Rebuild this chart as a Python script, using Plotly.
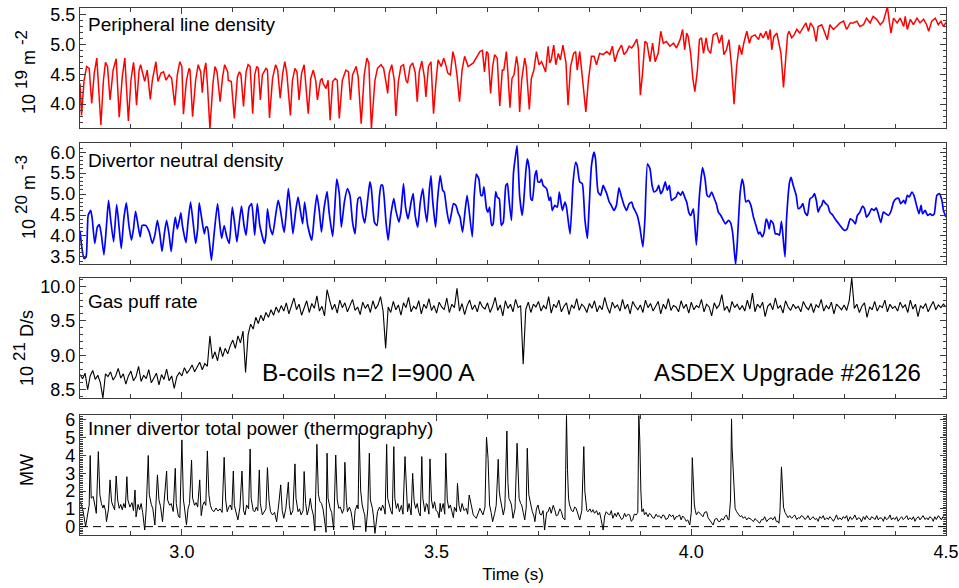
import plotly.graph_objects as go

# ---------------- data ----------------
# Peripheral line density (10^19 m^-2)
pld_t = [
    2.800, 2.803, 2.808, 2.813, 2.818, 2.823, 2.828, 2.833, 2.841, 2.846,
    2.850, 2.854, 2.859, 2.865, 2.871, 2.877, 2.883, 2.888, 2.895, 2.900,
    2.905, 2.907, 2.911, 2.916, 2.919, 2.922, 2.927, 2.932, 2.938, 2.942,
    2.949, 2.953, 2.959, 2.964, 2.969, 2.975, 2.980, 2.986, 2.991, 2.996,
    3.000, 3.003, 3.009, 3.014, 3.016, 3.021, 3.027, 3.032, 3.037, 3.040,
    3.044, 3.047, 3.050, 3.055, 3.061, 3.065, 3.069, 3.075, 3.080, 3.084,
    3.090, 3.091, 3.097, 3.103, 3.109, 3.113, 3.116, 3.121, 3.126, 3.130,
    3.134, 3.139, 3.143, 3.147, 3.150, 3.154, 3.158, 3.165, 3.168, 3.172,
    3.178, 3.184, 3.188, 3.193, 3.198, 3.202, 3.206, 3.213, 3.217, 3.222,
    3.226, 3.230, 3.235, 3.240, 3.243, 3.248, 3.253, 3.258, 3.263, 3.266,
    3.272, 3.275, 3.277, 3.283, 3.287, 3.291, 3.296, 3.301, 3.305, 3.309,
    3.315, 3.322, 3.327, 3.331, 3.335, 3.342, 3.346, 3.352, 3.358, 3.363,
    3.367, 3.372, 3.379, 3.384, 3.391, 3.396, 3.401, 3.404, 3.407, 3.412,
    3.417, 3.420, 3.425, 3.430, 3.435, 3.440, 3.443, 3.448, 3.453, 3.458,
    3.462, 3.466, 3.471, 3.476, 3.479, 3.484, 3.489, 3.494, 3.499, 3.503,
    3.509, 3.514, 3.517, 3.522, 3.527, 3.532, 3.536, 3.540, 3.545, 3.550,
    3.555, 3.558, 3.562,
    3.572, 3.578, 3.585, 3.590, 3.594, 3.598, 3.601, 3.606, 3.610, 3.614,
    3.619, 3.624, 3.629, 3.632, 3.637, 3.640, 3.644, 3.648, 3.652, 3.657,
    3.660, 3.663, 3.667, 3.673, 3.676, 3.682, 3.686, 3.691, 3.696, 3.701,
    3.706, 3.710, 3.714, 3.719, 3.722, 3.725, 3.730, 3.734, 3.739, 3.743,
    3.748, 3.754, 3.758, 3.763, 3.769, 3.773, 3.776, 3.781, 3.786, 3.793,
    3.798, 3.804, 3.809, 3.814, 3.820, 3.827, 3.834, 3.840, 3.845, 3.850,
    3.856, 3.863, 3.868, 3.873, 3.878, 3.883, 3.887, 3.893, 3.896, 3.900,
    3.904, 3.909, 3.913, 3.919, 3.924, 3.929, 3.935, 3.940, 3.945, 3.951,
    3.958, 3.965, 3.971, 3.978, 3.983, 3.987, 3.991, 3.994, 3.999, 4.003,
    4.007, 4.012, 4.016, 4.020, 4.024, 4.029, 4.033, 4.038, 4.043, 4.050,
    4.055, 4.060, 4.064, 4.069, 4.074, 4.079, 4.084, 4.089, 4.094, 4.099,
    4.103, 4.109, 4.114, 4.118, 4.125, 4.132, 4.136, 4.141, 4.147, 4.151,
    4.155, 4.158, 4.162, 4.168, 4.172, 4.176, 4.181, 4.185, 4.189, 4.192,
    4.197, 4.202, 4.207, 4.213, 4.220, 4.225, 4.230, 4.234, 4.240, 4.245,
    4.249, 4.256, 4.261, 4.267, 4.272, 4.279, 4.285, 4.292, 4.299, 4.305,
    4.312, 4.318, 4.325, 4.331, 4.338, 4.344, 4.351, 4.357, 4.364, 4.371,
    4.377, 4.382, 4.385, 4.389, 4.392, 4.397, 4.404, 4.410, 4.417, 4.420,
    4.424, 4.430, 4.436, 4.443, 4.449, 4.456, 4.462, 4.466, 4.472, 4.479,
    4.485, 4.490, 4.495, 4.500,
]
pld_v = [
    4.35, 3.81, 4.40, 4.63, 4.60, 4.01, 4.52, 4.77, 3.65, 4.40,
    4.70, 4.63, 4.07, 4.57, 4.76, 3.78, 4.46, 4.77, 3.72, 4.40,
    4.70, 4.54, 3.98, 4.57, 4.66, 4.54, 4.38, 4.57, 4.08, 4.40,
    4.71, 4.38, 4.52, 4.54, 4.40, 4.49, 4.43, 3.98, 4.49, 4.71,
    4.63, 3.83, 4.40, 4.60, 4.57, 3.79, 4.40, 4.66, 4.54, 4.19,
    4.57, 4.69, 4.35, 3.59, 4.35, 4.63, 4.54, 4.04, 4.46, 4.66,
    4.54, 4.40, 4.38, 3.76, 4.46, 4.54, 4.49, 3.96, 4.54, 4.66,
    4.63, 3.84, 4.49, 4.63, 4.60, 4.07, 4.49, 4.60, 4.57, 3.77,
    4.43, 4.66, 4.57, 4.10, 4.52, 4.71, 4.52, 3.81, 4.40, 4.60,
    4.54, 4.07, 4.52, 4.66, 4.40, 3.84, 4.43, 4.57, 4.38, 4.07,
    4.40, 4.43, 4.35, 4.26, 4.40, 3.73, 4.38, 4.43, 4.40, 3.76,
    4.40, 4.57, 4.54, 4.07, 4.49, 4.63, 4.46, 3.67, 4.49, 4.77,
    4.69, 3.59, 4.40, 4.60, 4.66, 4.60, 4.35, 4.18, 4.52, 4.66,
    4.40, 3.80, 4.38, 4.63, 4.66, 4.40, 4.35, 4.63, 4.69, 4.53,
    4.04, 4.54, 4.72, 4.46, 4.12, 4.63, 4.71, 3.84, 4.40, 4.74,
    4.63, 4.77, 4.69, 4.52, 4.49, 4.88, 4.74, 4.49, 4.04, 4.57,
    4.80, 4.71, 4.63,
    4.69, 4.77, 4.88, 4.90, 4.54, 4.88, 4.85, 4.18, 4.63, 4.83,
    4.77, 3.97, 4.57, 4.57, 4.88, 4.52, 3.94, 4.43, 4.49, 4.80,
    4.63, 3.87, 4.40, 4.77, 4.63, 3.91, 4.43, 4.57, 4.88, 4.66,
    4.71, 4.63, 4.54, 4.97, 4.69, 4.74, 4.99, 4.66, 4.85, 4.74,
    4.99, 4.69, 3.98, 4.63, 4.85, 4.88, 4.57, 4.88, 4.46, 3.87,
    4.40, 4.80, 4.80, 4.66, 4.85, 4.83, 4.88, 4.83, 4.97, 4.71,
    4.88, 4.99, 4.83, 4.88, 4.97, 4.94, 4.99, 5.09, 4.94, 4.15,
    4.49, 5.05, 5.02, 4.71, 5.02, 4.71, 4.85, 5.22, 5.02, 5.05,
    4.97, 5.02, 4.94, 5.08, 5.25, 4.91, 5.19, 5.13, 4.83, 4.43,
    4.21, 4.57, 5.08, 5.11, 4.85, 5.11, 4.91, 4.85, 5.16, 5.19,
    5.02, 5.16, 4.83, 4.91, 5.08, 4.63, 4.00, 4.63, 4.99, 4.83,
    5.02, 5.22, 5.02, 5.13, 5.16, 5.08, 5.19, 5.11, 5.22, 5.08,
    5.25, 4.91, 5.13, 5.19, 5.02, 4.85, 4.28, 4.80, 5.16, 5.22,
    5.11, 5.16, 5.25, 5.19, 5.30, 5.36, 5.22, 5.36, 5.28, 5.05,
    5.30, 5.33, 5.22, 5.08, 5.33, 5.25, 5.30, 5.36, 5.39, 5.25,
    5.36, 5.36, 5.39, 5.30, 5.33, 5.44, 5.36, 5.47, 5.42, 5.33,
    5.39, 5.56, 5.63, 5.36, 5.19, 5.44, 5.36, 5.44, 5.30, 5.47,
    5.25, 5.42, 5.33, 5.44, 5.36, 5.42, 5.33, 5.22, 5.39, 5.44,
    5.33, 5.39, 5.30, 5.37,
]

# Divertor neutral density (10^20 m^-3)
dnd_t = [
    2.800, 2.803, 2.808, 2.812, 2.816, 2.821, 2.824, 2.829, 2.834, 2.838,
    2.842, 2.847, 2.852, 2.856, 2.860, 2.866, 2.872, 2.877, 2.881, 2.886,
    2.891, 2.896, 2.901, 2.905, 2.909, 2.913, 2.918, 2.922, 2.929, 2.936,
    2.942, 2.947, 2.952, 2.957, 2.961, 2.966, 2.970, 2.975, 2.979, 2.983,
    2.987, 2.991, 2.995, 2.998, 3.001, 3.008, 3.012, 3.017, 3.022, 3.027,
    3.031, 3.034, 3.038, 3.044, 3.047, 3.050, 3.054, 3.058, 3.063, 3.070,
    3.074, 3.078, 3.083, 3.088, 3.093, 3.099, 3.104, 3.108, 3.112, 3.117,
    3.122, 3.126, 3.132, 3.137, 3.141, 3.143, 3.148, 3.153, 3.162, 3.165,
    3.168, 3.173, 3.178, 3.184, 3.189, 3.193, 3.198, 3.201, 3.205, 3.209,
    3.214, 3.218, 3.224, 3.228, 3.232, 3.237, 3.241, 3.247, 3.255, 3.260,
    3.265, 3.270, 3.274, 3.279, 3.285, 3.289, 3.296, 3.300, 3.304, 3.309,
    3.313, 3.319, 3.325, 3.330, 3.335, 3.340, 3.344, 3.346, 3.350, 3.355,
    3.359, 3.365, 3.369, 3.372, 3.378, 3.383, 3.388, 3.391, 3.394, 3.397,
    3.401, 3.405, 3.410, 3.416, 3.420, 3.426, 3.430, 3.435, 3.439, 3.444,
    3.450, 3.454, 3.458, 3.463, 3.468, 3.473, 3.477, 3.481, 3.486, 3.489,
    3.492, 3.498, 3.502, 3.507, 3.512, 3.515, 3.520, 3.525, 3.529, 3.533,
    3.538, 3.542, 3.546, 3.551, 3.556, 3.560,
    3.570, 3.574, 3.578, 3.583, 3.587, 3.590, 3.593, 3.598, 3.601, 3.604,
    3.608, 3.611, 3.616, 3.619, 3.623, 3.627, 3.631, 3.636, 3.639, 3.642,
    3.647, 3.651, 3.655, 3.658, 3.663, 3.668, 3.671, 3.675, 3.678, 3.682,
    3.685, 3.688, 3.693, 3.696, 3.699, 3.703, 3.706, 3.709, 3.716, 3.721,
    3.724, 3.727, 3.732, 3.737, 3.741, 3.744, 3.747, 3.752, 3.755, 3.762,
    3.768, 3.773, 3.776, 3.781, 3.786, 3.791, 3.796, 3.799, 3.804, 3.809,
    3.812, 3.817, 3.822, 3.827, 3.830, 3.834, 3.839, 3.843, 3.848, 3.853,
    3.858, 3.863, 3.868, 3.873, 3.878, 3.883, 3.886, 3.891, 3.894, 3.899,
    3.905, 3.909, 3.914, 3.919, 3.923, 3.927, 3.932, 3.936, 3.940, 3.944,
    3.949, 3.953, 3.957, 3.961, 3.966, 3.970, 3.974, 3.979, 3.983, 3.987,
    3.991, 3.995, 3.999, 4.004, 4.007, 4.010, 4.016, 4.022, 4.027, 4.031,
    4.035, 4.040, 4.044, 4.050, 4.053, 4.058, 4.063, 4.067, 4.073, 4.077,
    4.081, 4.084, 4.087, 4.090, 4.096, 4.100, 4.103, 4.107, 4.112, 4.117,
    4.122, 4.127, 4.132, 4.135, 4.139, 4.143, 4.147, 4.150, 4.153, 4.156,
    4.161, 4.165, 4.169, 4.173, 4.177, 4.181, 4.184, 4.187, 4.193, 4.196,
    4.200, 4.206, 4.210, 4.215, 4.219, 4.223, 4.228, 4.233, 4.238, 4.242,
    4.246, 4.249, 4.253, 4.256, 4.259, 4.264, 4.268, 4.272, 4.278, 4.282,
    4.287, 4.292, 4.297, 4.302, 4.306, 4.312, 4.317, 4.322, 4.326, 4.331,
    4.336, 4.340, 4.344, 4.349, 4.354, 4.359, 4.363, 4.367, 4.372, 4.377,
    4.382, 4.387, 4.392, 4.397, 4.402, 4.407, 4.411, 4.417, 4.420, 4.424,
    4.428, 4.433, 4.437, 4.443, 4.447, 4.451, 4.454, 4.459, 4.464, 4.469,
    4.473, 4.477, 4.482, 4.487, 4.492, 4.495, 4.500,
]
dnd_v = [
    4.13, 3.78, 3.46, 3.50, 4.49, 4.61, 4.41, 3.82, 4.21, 4.27,
    4.02, 3.55, 4.25, 4.85, 4.41, 3.86, 4.75, 4.17, 3.70, 4.41,
    4.79, 4.25, 3.90, 4.17, 4.59, 4.33, 3.98, 4.25, 4.25, 4.09,
    3.82, 4.02, 4.37, 4.02, 3.63, 4.09, 4.37, 4.02, 3.63, 4.09,
    4.45, 4.17, 4.37, 4.55, 4.25, 3.84, 4.33, 4.81, 4.33, 3.82,
    4.17, 4.79, 4.49, 4.05, 4.21, 4.21, 3.86, 3.42, 4.02, 4.77,
    4.33, 3.94, 4.25, 3.98, 3.82, 4.69, 4.25, 3.86, 4.25, 4.71,
    4.25, 4.02, 4.69, 4.77, 4.29, 4.02, 4.77, 4.25, 3.82, 4.02,
    4.65, 4.21, 4.03, 4.49, 4.85, 4.65, 4.25, 4.09, 4.57, 5.13,
    4.57, 4.05, 4.65, 4.93, 4.65, 4.29, 4.81, 4.25, 3.90, 4.49,
    4.98, 4.57, 4.09, 4.65, 5.06, 4.57, 3.99, 4.65, 5.36, 5.01,
    4.21, 4.81, 5.13, 4.97, 4.33, 4.05, 4.73, 4.89, 4.93, 4.49,
    4.31, 4.89, 5.29, 5.13, 4.33, 4.25, 4.97, 5.21, 5.21, 4.93,
    4.29, 3.90, 4.49, 4.89, 4.61, 4.33, 4.57, 5.25, 4.69, 4.41,
    4.81, 5.01, 4.49, 4.21, 4.81, 5.13, 4.65, 4.33, 5.13, 5.44,
    4.89, 4.21, 4.89, 5.44, 5.09, 5.05, 4.61, 4.29, 4.53, 4.77,
    4.73, 4.56, 4.45, 4.09, 4.61, 4.97,
    3.98, 4.97, 5.48, 5.36, 4.97, 4.97, 5.17, 4.65, 4.57, 4.69,
    4.25, 4.29, 5.06, 4.93, 4.89, 4.25, 4.33, 5.21, 5.25, 4.89,
    4.37, 5.52, 5.92, 6.16, 4.97, 4.49, 4.81, 5.52, 5.84, 5.60,
    4.89, 4.85, 5.44, 5.56, 5.29, 5.29, 5.36, 5.21, 5.13, 4.85,
    4.93, 4.61, 4.73, 4.69, 5.05, 4.81, 4.61, 4.81, 4.69, 4.05,
    5.29, 5.76, 5.68, 5.29, 5.25, 4.41, 3.94, 4.57, 5.68, 6.00,
    5.84, 5.05, 4.97, 5.21, 5.13, 5.01, 4.81, 4.73, 4.61, 4.73,
    5.15, 4.93, 4.73, 4.61, 4.77, 4.81, 4.69, 4.57, 4.49, 4.21,
    3.74, 4.41, 5.72, 5.60, 5.21, 5.05, 5.09, 5.21, 5.01, 5.09,
    5.29, 5.09, 5.21, 4.85, 4.89, 4.93, 5.05, 4.97, 5.06, 4.93,
    4.81, 4.57, 4.49, 4.65, 4.25, 3.78, 4.97, 5.63, 5.36, 4.97,
    4.93, 5.05, 4.93, 4.73, 4.57, 4.49, 4.37, 4.29, 4.37, 4.32,
    4.09, 3.70, 3.32, 3.78, 5.05, 5.36, 5.21, 4.81, 4.85, 4.73,
    4.45, 4.25, 4.05, 4.09, 3.98, 4.09, 4.40, 4.33, 4.17, 4.37,
    4.29, 4.05, 4.05, 4.02, 4.35, 3.86, 3.50, 4.41, 5.29, 5.40,
    5.21, 4.97, 4.65, 4.69, 4.77, 4.57, 4.49, 4.89, 4.93, 5.01,
    4.81, 4.57, 4.69, 4.73, 4.85, 4.77, 4.73, 4.57, 4.49, 4.41,
    4.33, 4.25, 4.17, 4.13, 4.17, 4.41, 4.37, 4.29, 4.49, 4.57,
    4.71, 4.65, 4.45, 4.53, 4.65, 4.61, 4.67, 4.53, 4.32, 4.57,
    4.53, 4.49, 4.59, 4.81, 4.89, 4.90, 4.77, 4.85, 4.77, 4.97,
    4.93, 5.05, 4.97, 4.69, 4.53, 4.73, 4.53, 4.61, 4.49, 4.53,
    4.49, 4.53, 4.97, 5.01, 4.85, 4.61, 4.45,
]

# Gas puff rate (10^21 D/s), sampled every 5 ms from 2.800 s
gas_t0 = 2.800
gas_dt = 0.005
gas_v = [
    8.72, 8.66, 8.74, 8.50, 8.70, 8.78, 8.65, 8.71, 8.60, 8.38, 8.73, 8.69, 8.76, 8.64, 8.70, 8.81, 8.67, 8.73, 8.58, 8.70,
    8.77, 8.63, 8.69, 8.84, 8.62, 8.71, 8.66, 8.79, 8.60, 8.68, 8.74, 8.57, 8.72, 8.65, 8.80, 8.63, 8.70, 8.52, 8.69, 8.75,
    8.70, 8.82, 8.74, 8.79, 8.86, 8.76, 8.83, 8.90, 8.79, 8.88, 8.84, 9.28, 8.95, 9.05, 8.92, 9.12, 8.98, 9.10, 9.02, 9.14,
    9.22, 9.10, 9.28, 9.18, 9.35, 8.75, 9.30, 9.45, 9.38, 9.55, 9.46, 9.58, 9.50, 9.62, 9.55, 9.66, 9.58, 9.70, 9.62, 9.72,
    9.64, 9.76, 9.60, 9.72, 9.83, 9.66, 9.74, 9.58, 9.70, 9.79, 9.62, 9.75, 9.68, 9.86, 9.64, 9.71, 9.57, 9.95, 9.80, 9.66,
    9.74, 9.61, 9.80, 9.69, 9.76, 9.63, 9.72, 9.81, 9.65, 9.70, 9.59, 9.77, 9.68, 9.74, 9.62, 9.79, 9.67, 9.73, 9.85, 9.64,
    9.10, 9.70, 9.62, 9.78, 9.66, 9.73, 9.58, 9.76, 9.69, 9.84, 9.63, 9.71, 9.67, 9.79, 9.60, 9.74, 9.68, 9.82, 9.65, 9.72,
    9.61, 9.77, 9.70, 9.66, 9.83, 9.62, 9.74, 9.69, 9.97, 9.64, 9.75, 9.59, 9.72, 9.80, 9.66, 9.73, 9.63, 9.78, 9.70, 9.67,
    9.76, 9.62, 9.71, 9.84, 9.65, 9.73, 9.57, 9.79, 9.68, 9.74, 9.63, 9.81, 9.69, 9.72, 8.87, 9.66, 9.77, 9.62, 9.74, 9.70,
    9.78, 9.64, 9.72, 9.67, 9.85, 9.61, 9.74, 9.69, 9.80, 9.63, 9.71, 9.76, 9.59, 9.73, 9.68, 9.82, 9.65, 9.74, 9.70, 9.62,
    9.75, 9.68, 9.79, 9.63, 9.72, 9.66, 9.84, 9.70, 9.61, 9.77, 9.69, 9.73, 9.64, 9.81, 9.67, 9.74, 9.60, 9.78, 9.71, 9.66,
    9.73, 9.62, 9.80, 9.69, 9.75, 9.64, 9.71, 9.78, 9.60, 9.74, 9.67, 9.82, 9.65, 9.72, 9.70, 9.63, 9.79, 9.68, 9.74, 9.61,
    9.77, 9.66, 9.72, 9.69, 9.81, 9.63, 9.74, 9.70, 9.57, 9.76, 9.68, 9.73, 9.88, 9.65, 9.71, 9.62, 9.78, 9.69, 9.74, 9.66,
    9.72, 9.64, 9.80, 9.67, 9.90, 9.63, 9.74, 9.69, 9.77, 9.56, 9.71, 9.75, 9.66, 9.83, 9.68, 9.72, 9.61, 9.79, 9.70, 9.65,
    9.74, 9.68, 9.71, 9.63, 9.78, 9.70, 9.66, 9.75, 9.62, 9.73, 9.69, 9.81, 9.64, 9.72, 9.67, 9.77, 9.60, 9.74, 9.70, 9.66,
    9.73, 9.65, 9.79, 10.12, 9.68, 9.74, 9.62, 9.71, 9.76, 9.55, 9.70, 9.66, 9.78, 9.64, 9.72, 9.69, 9.80, 9.63, 9.74, 9.68,
    9.71, 9.64, 9.77, 9.69, 9.73, 9.62, 9.80, 9.67, 9.74, 9.56, 9.72, 9.68, 9.75, 9.63, 9.71, 9.78, 9.66, 9.73, 9.69, 9.74, 9.70,
]

# Inner divertor total power (MW)
pow_t = [
    2.801, 2.806, 2.811, 2.814, 2.818, 2.820, 2.822, 2.826, 2.829, 2.832,
    2.836, 2.839, 2.842, 2.845, 2.847, 2.850, 2.852, 2.856, 2.859, 2.862,
    2.865, 2.868, 2.871, 2.874, 2.877, 2.880, 2.883, 2.886, 2.889, 2.892,
    2.894, 2.898, 2.902, 2.905, 2.908, 2.910, 2.914, 2.917, 2.920, 2.923,
    2.927, 2.930, 2.934, 2.936, 2.940, 2.943, 2.947, 2.949, 2.952, 2.955,
    2.958, 2.962, 2.965, 2.970, 2.972, 2.976, 2.979, 2.983, 2.987, 2.989,
    2.993, 2.996, 3.000, 3.003, 3.005, 3.009, 3.012, 3.015, 3.019, 3.021,
    3.025, 3.028, 3.031, 3.035, 3.038, 3.041, 3.044, 3.047, 3.050, 3.053,
    3.056, 3.059, 3.063, 3.067, 3.071, 3.075, 3.079, 3.083, 3.086, 3.089,
    3.092, 3.095, 3.098, 3.101, 3.103, 3.107, 3.110, 3.114, 3.118, 3.121,
    3.124, 3.127, 3.131, 3.134, 3.136, 3.140, 3.143, 3.146, 3.149, 3.152,
    3.154, 3.158, 3.161, 3.165, 3.168, 3.171, 3.174, 3.178, 3.182, 3.186,
    3.190, 3.194, 3.197, 3.200, 3.204, 3.209, 3.211, 3.214, 3.218, 3.222,
    3.224, 3.228, 3.231, 3.234, 3.238, 3.240, 3.243, 3.246, 3.249, 3.252,
    3.255, 3.258, 3.261, 3.265, 3.268, 3.271, 3.274, 3.277, 3.279, 3.283,
    3.285, 3.287, 3.291, 3.294, 3.298, 3.302, 3.305, 3.308, 3.311, 3.315,
    3.318, 3.320, 3.323, 3.325, 3.329, 3.332, 3.334, 3.337, 3.340, 3.344,
    3.346, 3.348, 3.351, 3.354, 3.357, 3.359, 3.361, 3.365, 3.368, 3.370,
    3.374, 3.376, 3.379, 3.382, 3.384, 3.388, 3.391, 3.394, 3.397, 3.399,
    3.402, 3.404, 3.407, 3.410, 3.413, 3.416, 3.418, 3.421, 3.424, 3.427,
    3.431, 3.434, 3.438, 3.441, 3.443, 3.446, 3.450, 3.453, 3.456, 3.459,
    3.462, 3.465, 3.468, 3.471, 3.473, 3.477, 3.480, 3.482, 3.485, 3.487,
    3.490, 3.493, 3.496, 3.499, 3.502, 3.505, 3.507, 3.509, 3.513, 3.516,
    3.518, 3.521, 3.524, 3.527, 3.530, 3.533, 3.535, 3.539, 3.541, 3.544,
    3.547, 3.550, 3.554, 3.558, 3.561, 3.564,
    3.572, 3.578, 3.585, 3.591, 3.595, 3.598, 3.601, 3.604, 3.607, 3.610,
    3.614, 3.617, 3.621, 3.623, 3.625, 3.628, 3.631, 3.634, 3.638, 3.640,
    3.642, 3.645, 3.647, 3.650, 3.654, 3.658, 3.660, 3.662, 3.665, 3.667,
    3.670, 3.673, 3.676, 3.678, 3.681, 3.683, 3.686, 3.688, 3.691, 3.693,
    3.696, 3.699, 3.703, 3.706, 3.709, 3.712, 3.716, 3.719, 3.722, 3.725,
    3.729, 3.732, 3.735, 3.738, 3.742, 3.745, 3.748, 3.752, 3.755, 3.757,
    3.759, 3.761, 3.765, 3.768, 3.771, 3.774, 3.778, 3.781, 3.785, 3.789,
    3.791, 3.793, 3.795, 3.797, 3.801, 3.804, 3.807, 3.810, 3.814, 3.817,
    3.820, 3.823, 3.827, 3.830, 3.833, 3.837, 3.840, 3.843, 3.846, 3.850,
    3.853, 3.856, 3.859, 3.863, 3.866, 3.869, 3.872, 3.876, 3.879, 3.882,
    3.885, 3.888, 3.892, 3.895, 3.897, 3.899, 3.901, 3.903, 3.906, 3.908,
    3.911, 3.915, 3.918, 3.921, 3.924, 3.927, 3.931, 3.934, 3.937, 3.941,
    3.944, 3.947, 3.950, 3.954, 3.957, 3.961, 3.964, 3.967, 3.970, 3.973,
    3.977, 3.980, 3.983, 3.987, 3.990, 3.993, 3.997, 4.000, 4.002, 4.004,
    4.006, 4.008, 4.010, 4.014, 4.017, 4.020, 4.023, 4.026, 4.030, 4.033,
    4.036, 4.040, 4.043, 4.046, 4.050, 4.053, 4.056, 4.059, 4.063, 4.066,
    4.069, 4.072, 4.074, 4.077, 4.079, 4.080, 4.082, 4.084, 4.086, 4.089,
    4.092, 4.096, 4.099, 4.102, 4.105, 4.109, 4.112, 4.115, 4.118, 4.122,
    4.125, 4.128, 4.131, 4.134, 4.138, 4.141, 4.144, 4.148, 4.151, 4.154,
    4.157, 4.160, 4.164, 4.167, 4.170, 4.172, 4.174, 4.177, 4.179, 4.181,
    4.184, 4.187, 4.190, 4.193, 4.197, 4.200, 4.203, 4.207, 4.210, 4.213,
    4.216, 4.220, 4.223, 4.226, 4.229, 4.233, 4.236, 4.239, 4.243, 4.246,
    4.249, 4.252, 4.256, 4.259, 4.262, 4.266, 4.269, 4.272, 4.275, 4.279,
    4.282, 4.285, 4.288, 4.292, 4.295, 4.298, 4.302, 4.305, 4.308, 4.312,
    4.315, 4.318, 4.321, 4.325, 4.328, 4.331, 4.334, 4.338, 4.341, 4.344,
    4.347, 4.351, 4.354, 4.357, 4.361, 4.364, 4.367, 4.370, 4.374, 4.377,
    4.380, 4.383, 4.387, 4.390, 4.393, 4.396, 4.400, 4.403, 4.406, 4.410,
    4.413, 4.416, 4.419, 4.423, 4.426, 4.429, 4.433, 4.436, 4.439, 4.442,
    4.446, 4.449, 4.452, 4.455, 4.459, 4.462, 4.465, 4.468, 4.472, 4.475,
    4.478, 4.481, 4.485, 4.488, 4.491, 4.494, 4.498, 4.500,
]
pow_v = [
    1.41, 0.90, 0.00, 0.47, 1.20, 4.00, 1.60, 1.70, 1.10, 0.75,
    4.22, 1.80, 1.30, 1.05, 1.22, 0.90, 0.28, 1.00, 2.63, 1.40,
    1.15, 0.95, 2.85, 1.50, 1.03, 1.25, 0.95, 1.30, 1.05, 2.81,
    1.50, 1.10, 1.35, 0.90, 2.06, 0.55, 1.25, 0.95, 1.30, 0.80,
    -0.19, 1.00, 4.00, 1.80, 1.25, 1.00, 0.09, 1.10, 2.91, 1.50,
    1.15, 0.28, 1.20, 3.13, 1.50, 1.20, 1.30, 0.85, 3.28, 1.30,
    0.60, 0.50, 4.88, 1.50, 1.10, 0.09, 1.00, 1.30, 3.75, 1.60,
    1.20, 1.35, 1.10, 2.63, 0.62, 1.20, 1.40, 1.20, 4.26, 1.80,
    1.20, 0.95, 0.84, 1.05, 0.88, 1.00, 0.80, 3.90, 1.50, 0.84,
    1.10, 1.22, 0.95, 3.13, 1.20, 0.66, 0.38, 1.10, 3.13, 0.90,
    0.66, 1.22, 1.00, 4.37, 1.60, 0.90, 0.84, 1.10, 0.90, 3.19,
    1.30, 0.66, 0.84, 1.00, 3.32, 1.50, 0.84, 0.66, 0.80, 0.28,
    1.22, 2.35, 0.90, 0.47, 1.00, 2.50, 1.20, 0.66, 0.90, 3.53,
    1.60, 0.84, 1.00, 0.66, 0.90, 3.10, 1.30, 0.66, 1.00, 1.59,
    1.00, 0.66, -0.24, 4.63, 1.80, 1.41, 1.31, 1.00, 0.60, -0.32,
    4.13, 1.60, 1.03, 0.80, -0.19, 4.03, 1.50, 1.03, 1.10, 0.75,
    1.00, 3.62, 1.40, 0.84, 1.10, 0.84, 0.50, -0.19, 0.90, 1.22,
    1.00, 5.25, 2.00, 1.22, 0.84, 0.66, -0.28, 1.00, 4.13, 1.50,
    1.03, 0.60, -0.38, 0.50, 0.84, 1.10, 0.90, 1.22, 1.00, 0.70,
    4.63, 1.60, 1.22, 0.90, 0.70, 4.50, 1.60, 1.03, 1.30, 0.84,
    1.20, 0.70, 3.94, 1.50, 0.84, 1.30, 0.66, 3.00, 1.40, 1.03,
    1.30, 0.80, 0.60, 3.94, 1.60, 0.84, 1.30, 1.22, 0.70, 3.81,
    1.50, 1.03, 1.40, 0.90, 0.84, 0.50, 1.31, 0.84, 1.30, 0.70,
    4.13, 1.50, 1.03, 1.22, 0.84, 0.50, 1.10, 0.84, 2.44, 1.20,
    0.84, 1.30, 0.90, 1.03, 0.70, 1.78,
    0.66, 0.47, 1.03, 0.66, 1.10, 5.03, 3.85, 1.22, 0.80, 0.28,
    0.75, 1.20, 3.79, 2.00, 1.59, 1.00, 0.66, 1.10, 5.38, 2.50,
    1.59, 1.40, 1.22, 0.47, 1.00, 4.69, 2.40, 1.59, 1.30, 1.22,
    0.80, 0.38, 1.10, 4.41, 1.80, 1.41, 1.10, 0.84, 0.60, 0.28,
    1.00, 1.22, 0.70, 0.66, 0.90, -0.19, 0.80, 0.84, 1.10, 0.75,
    1.20, 0.94, 0.60, 0.66, 1.00, 0.84, 0.50, 0.38, 6.25, 3.20,
    1.60, 1.22, 0.90, 0.84, 1.10, 1.03, 0.66, 0.38, 0.90, 4.50,
    2.00, 1.22, 0.90, 0.84, 1.00, 0.81, 0.95, 0.75, 0.90, 0.66,
    0.80, 0.40, -0.19, 0.60, 0.84, 0.70, 0.66, 0.90, 0.47, 0.75,
    0.56, 0.80, 0.66, 0.40, 0.47, 0.75, 0.56, 0.70, 0.66, 0.30,
    0.38, 0.70, 0.66, 0.80, 6.25, 4.80, 2.00, 0.84, 1.00, 0.66,
    0.80, 0.56, 0.75, 0.66, 0.50, 0.47, 0.70, 0.56, 0.62, 0.47,
    0.66, 0.62, 0.40, 0.47, 0.70, 0.56, 0.66, 0.38, 0.56, 0.56,
    0.66, 0.38, 0.60, 0.47, 0.30, 0.38, 0.09, 0.80, 3.88, 2.00,
    1.22, 0.90, 0.66, 0.84, 0.75, 0.60, 0.56, 0.80, 0.84, 0.50,
    0.38, 0.20, 0.09, 0.40, 0.47, 0.30, 0.28, 0.45, 0.38, 0.56,
    0.66, 0.40, 0.38, 1.50, 6.06, 4.50, 3.38, 1.50, 1.03, 0.84,
    0.70, 0.56, 0.62, 0.47, 0.56, 0.38, 0.50, 0.47, 0.40, 0.28,
    0.45, 0.38, 0.30, 0.19, 0.40, 0.38, 0.56, 0.28, 0.40, 0.47,
    0.50, 0.38, 0.56, 0.28, 0.30, 0.19, 0.80, 3.36, 2.00, 1.10,
    0.80, 0.66, 0.50, 0.62, 0.47, 0.56, 0.66, 0.40, 0.50, 0.47,
    0.62, 0.56, 0.40, 0.47, 0.62, 0.38, 0.50, 0.56, 0.40, 0.47,
    0.30, 0.56, 0.47, 0.62, 0.38, 0.50, 0.40, 0.56, 0.47, 0.30,
    0.47, 0.66, 0.40, 0.50, 0.38, 0.56, 0.47, 0.62, 0.30, 0.56,
    0.40, 0.47, 0.66, 0.38, 0.50, 0.47, 0.28, 0.56, 0.40, 0.62,
    0.47, 0.38, 0.56, 0.47, 0.40, 0.62, 0.38, 0.50, 0.47, 0.30,
    0.56, 0.40, 0.47, 0.66, 0.38, 0.50, 0.40, 0.56, 0.30, 0.47,
    0.56, 0.40, 0.47, 0.62, 0.38, 0.50, 0.40, 0.56, 0.30, 0.47,
    0.56, 0.38, 0.47, 0.62, 0.40, 0.50, 0.38, 0.56, 0.47, 0.30,
    0.56, 0.40, 0.62, 0.47, 0.38, 0.56, 0.47, 0.50,
]

x_range = [2.8, 4.5]
panel_labels = ["Peripheral line density", "Divertor neutral density",
                "Gas puff rate", "Inner divertor total power (thermography)"]
SUP = '<sup><span style="font-size:17px">{}</span></sup>'
y_titles = [
    "10 " + SUP.format("19") + " m " + SUP.format("-2"),
    "10 " + SUP.format("20") + " m " + SUP.format("-3"),
    "10 " + SUP.format("21") + " D/s",
    "MW",
]
shot_note = "B-coils n=2 I=900 A"
shot_name = "ASDEX Upgrade #26126"
x_title = "Time (s)"

# ---------------- figure ----------------
FONT = "Liberation Sans, Arial, Helvetica, sans-serif"
AX = "#3c3c3c"
W, H = 959, 588
ML, MR, MT, MB = 80, 13, 8, 53
PH = H - MT - MB

def dom(top_px, bot_px):
    return [(H - MB - bot_px) / PH, (H - MB - top_px) / PH]

domains = [dom(8, 128), dom(143, 264), dom(278, 398), dom(415, 535)]
yranges = [[3.60, 5.61], [3.33, 6.22], [8.38, 10.12], [-0.47, 6.28]]
ydticks = [0.5, 0.5, 0.5, 1]
yfmts = [".1f", ".1f", ".1f", "d"]

fig = go.Figure()
common = dict(mode="lines", showlegend=False, hoverinfo="skip")
fig.add_trace(go.Scatter(x=pld_t, y=pld_v, line=dict(color="#ff0000", width=1.5),
                         xaxis="x", yaxis="y", **common))
fig.add_trace(go.Scatter(x=dnd_t, y=dnd_v, line=dict(color="#0000ff", width=1.7, shape="spline", smoothing=0.5),
                         xaxis="x2", yaxis="y2", **common))
fig.add_trace(go.Scatter(x0=gas_t0, dx=gas_dt, y=gas_v, line=dict(color="black", width=1.1),
                         xaxis="x3", yaxis="y3", **common))
fig.add_trace(go.Scatter(x=pow_t, y=pow_v, line=dict(color="black", width=1),
                         xaxis="x4", yaxis="y4", **common))

tickfont = dict(family=FONT, size=18, color="black")
layout = dict(
    width=W, height=H, margin=dict(l=ML, r=MR, t=MT, b=MB, autoexpand=False),
    paper_bgcolor="white", plot_bgcolor="white",
    font=dict(family=FONT, size=18, color="black"),
)
for i in range(4):
    n = "" if i == 0 else str(i + 1)
    layout["xaxis" + n] = dict(
        domain=[0, 1], anchor="y" + n, range=x_range, automargin=False,
        tickmode="linear", tick0=3.0, dtick=0.5, tickformat=".1f",
        showticklabels=(i == 3), ticks="inside", ticklen=6, tickwidth=1, tickcolor=AX,
        showline=True, linecolor=AX, linewidth=1.2, mirror="allticks",
        showgrid=False, zeroline=False, tickfont=tickfont,
        minor=dict(dtick=0.1, tick0=0, ticks="inside", ticklen=4, tickwidth=1, tickcolor=AX, showgrid=False),
    )
    if i > 0:
        layout["xaxis" + n]["matches"] = "x"
    layout["yaxis" + n] = dict(
        domain=domains[i], anchor="x" + n, range=yranges[i], automargin=False,
        tickmode="linear", tick0=0, dtick=ydticks[i], tickformat=yfmts[i],
        ticks="inside", ticklen=6, tickwidth=1, tickcolor=AX,
        showline=True, linecolor=AX, linewidth=1.2, mirror="allticks",
        showgrid=False, zeroline=False, tickfont=tickfont,
        minor=dict(dtick=0.1, tick0=0, ticks="inside", ticklen=3, tickwidth=1, tickcolor=AX, showgrid=False),
    )
layout["xaxis4"]["title"] = dict(text=x_title, font=dict(family=FONT, size=17), standoff=7)
fig.update_layout(**layout)

# zero reference line in the power panel
fig.add_shape(type="line", xref="x4", yref="y4", x0=x_range[0], x1=x_range[1], y0=0, y1=0,
              line=dict(color="black", width=1, dash="8px,5px"))

# panel labels
label_shift = [-4, -5, -11, -1]
for i, txt in enumerate(panel_labels):
    n = "" if i == 0 else str(i + 1)
    fig.add_annotation(text=txt, xref="paper", x=0, xanchor="left", xshift=6,
                       yref="y" + n + " domain", y=1, yanchor="top", yshift=label_shift[i],
                       showarrow=False, font=dict(family=FONT, size=19, color="black"))

# y-axis titles
title_y_px = [72, 197, 348, 470]
title_x_px = [25, 25, 23, 27]
for i, txt in enumerate(y_titles):
    fig.add_annotation(text=txt, xref="paper", x=0, xanchor="center", xshift=title_x_px[i] - ML,
                       yref="paper", y=(H - MB - title_y_px[i]) / PH, yanchor="middle",
                       textangle=-90, showarrow=False,
                       font=dict(family=FONT, size=18, color="black"))

# notes in the gas-puff panel
fig.add_annotation(text=shot_note, xref="x3 domain", x=(260 - ML) / (W - ML - MR), xanchor="left",
                   yref="y3 domain", y=(398 - 372) / 120, yanchor="middle",
                   showarrow=False, font=dict(family=FONT, size=24.5, color="black"))
fig.add_annotation(text=shot_name, xref="x3 domain", x=(652 - ML) / (W - ML - MR), xanchor="left",
                   yref="y3 domain", y=(398 - 372) / 120, yanchor="middle",
                   showarrow=False, font=dict(family=FONT, size=24, color="black"))

fig.write_html("out.html", config={"displayModeBar": False},
               post_script="document.body.style.margin='0px';document.body.style.padding='0px';")
